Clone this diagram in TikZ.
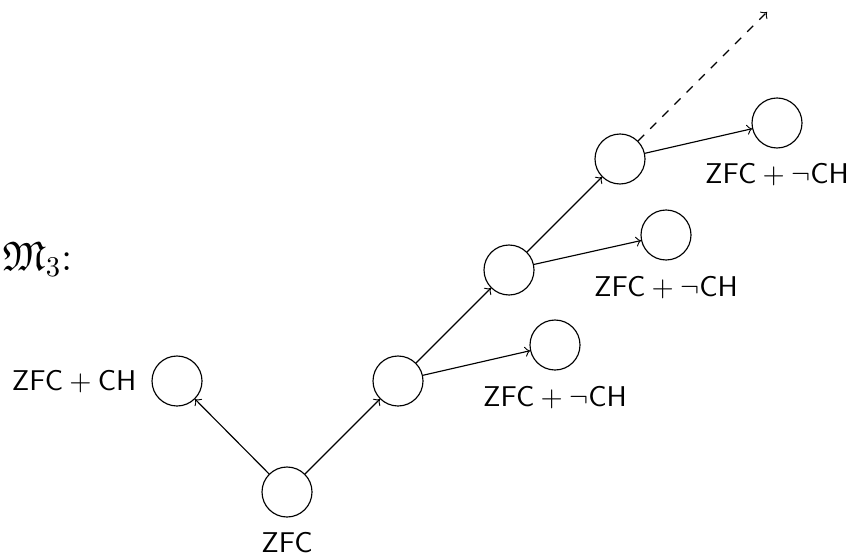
\documentclass[tikz,border=0pt]{standalone}
\usepackage{amssymb}
\begin{document}
\begin{tikzpicture}[x=0.35pt,y=-0.35pt,
  world/.style={circle,draw,inner sep=0pt,minimum size=17.5pt},
  lbl/.style={anchor=base,inner sep=0pt},
  >=to]
\useasboundingbox (0,0) rectangle (858,559);
\node[world] (z) at (287,492) {};
\node[world] (ch) at (177,381) {};
\node[world] (a1) at (398,381) {};
\node[world] (a2) at (509,270) {};
\node[world] (a3) at (620,159) {};
\node[world] (b1) at (555,345) {};
\node[world] (b2) at (666,235) {};
\node[world] (b3) at (777,123) {};
\coordinate (d) at (767,12);
\node[lbl] (lz) at (287,552) {$\textsf{ZFC}$};
\node[lbl,anchor=base east] (lch) at (137,390) {$\textsf{ZFC} + \textsf{CH}$};
\node[lbl] (l1) at (555,406) {$\textsf{ZFC} + \neg\textsf{CH}$};
\node[lbl] (l2) at (666,296) {$\textsf{ZFC} + \neg\textsf{CH}$};
\node[lbl] (l3) at (777,184) {$\textsf{ZFC} + \neg\textsf{CH}$};
\node[lbl,anchor=base west] (m) at (2,270) {\Large $\mathfrak{M}_3$:};
\draw[->] (z) -- (ch);
\draw[->] (z) -- (a1);
\draw[->] (a1) -- (a2);
\draw[->] (a2) -- (a3);
\draw[->] (a1) -- (b1);
\draw[->] (a2) -- (b2);
\draw[->] (a3) -- (b3);
\draw[->,dashed] (a3) -- (d);
\end{tikzpicture}
\end{document}
